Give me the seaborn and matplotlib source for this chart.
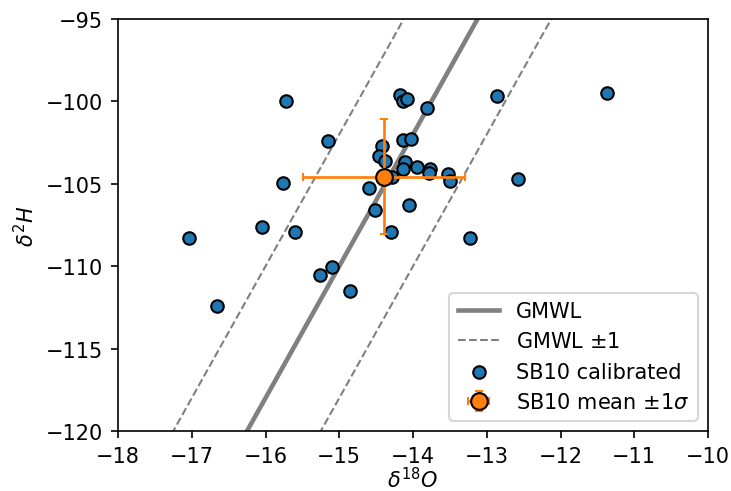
import numpy as np
import matplotlib
matplotlib.use("Agg")
import matplotlib.pyplot as plt
import seaborn as sns

# SB10 calibrated samples
d18O = [-15.72, -15.15, -15.76, -17.04, -16.05, -15.60, -16.66, -15.26, -15.10, -14.85,
        -14.60, -14.52, -14.30, -14.42, -14.46, -14.38, -14.18, -14.13, -14.08, -14.13,
        -14.03, -14.11, -14.13, -13.95, -14.05, -14.28, -13.81, -12.86, -13.77, -13.78,
        -13.53, -13.50, -12.58, -13.23, -11.37]
d2H = [-100.0, -102.4, -104.93, -108.26, -107.65, -107.9, -112.4, -110.56, -110.07, -111.53,
       -105.23, -106.56, -107.9, -102.69, -103.29, -103.6, -99.6, -100.0, -99.84, -102.32,
       -102.3, -103.7, -104.1, -103.97, -106.3, -104.56, -100.39, -99.66, -104.08, -104.32,
       -104.38, -104.8, -104.69, -108.3, -99.48]

# mean and 1 sigma
mean_x = -14.39
mean_y = -104.56
sd_x = 1.1
sd_y = 3.5

# GMWL: d2H = 8*d18O + 10, band +-1 permil in d18O
gmwl_slope = 8
gmwl_intercept = 10
gmwl_x = [-18.0, -10.0]
band = 1.0

xticks = [-18, -17, -16, -15, -14, -13, -12, -11, -10]
yticks = [-120, -115, -110, -105, -100, -95]

DPI = 150
fig = plt.figure(figsize=(731 / DPI, 492 / DPI), dpi=DPI)
ax = fig.add_axes([118 / 731, 1 - 432 / 492, 590 / 731, 412 / 492])

gx = np.array(gmwl_x)
sns.lineplot(x=gx, y=gmwl_slope * gx + gmwl_intercept, ax=ax, color="gray",
             lw=2.2, label="GMWL")
sns.lineplot(x=gx, y=gmwl_slope * (gx + band) + gmwl_intercept, ax=ax, color="gray",
             lw=1, ls="--", label="GMWL $\\pm$1")
sns.lineplot(x=gx, y=gmwl_slope * (gx - band) + gmwl_intercept, ax=ax, color="gray",
             lw=1, ls="--")

sns.scatterplot(x=d18O, y=d2H, ax=ax, color="C0", edgecolor="black", linewidth=1,
                s=36, zorder=3, label="SB10 calibrated")
ax.errorbar(mean_x, mean_y, xerr=sd_x, yerr=sd_y, fmt="o", color="C1", ecolor="C1",
            mec="black", ms=8, capsize=2, lw=1.3, zorder=4, label="SB10 mean $\\pm 1\\sigma$")

ax.set_xlim(-18, -10)
ax.set_ylim(-120, -95)
ax.set_xticks(xticks)
ax.set_yticks(yticks)
ax.set_xlabel(r"$\delta^{18}O$", labelpad=0)
ax.set_ylabel(r"$\delta^{2}H$")
ax.legend(loc="lower right")

fig.savefig("out.png", dpi=DPI)
